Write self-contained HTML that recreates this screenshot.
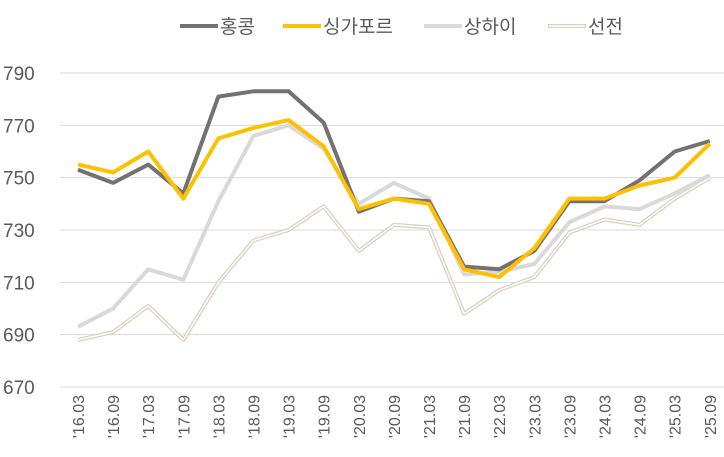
<!DOCTYPE html>
<html><head><meta charset="utf-8"><style>
body{margin:0;background:#fff;width:724px;height:452px;overflow:hidden}
text{font-family:"Liberation Sans","Noto Sans CJK KR",sans-serif}
</style></head><body>
<svg id="s" width="724" height="452" xmlns="http://www.w3.org/2000/svg"></svg>
<script>
const s=document.getElementById('s');
const ns='http://www.w3.org/2000/svg';
function el(t,a,txt){const e=document.createElementNS(ns,t);for(const k in a)e.setAttribute(k,a[k]);if(txt!=null)e.textContent=txt;s.appendChild(e);return e;}
const Y=v=>387-(v-670)*314/120, X=i=>78+35.1*i;
for(let v=670;v<=790;v+=20){el('line',{x1:60,x2:724,y1:Y(v),y2:Y(v),stroke:'#d9d9d9','stroke-width':1});
el('text',{x:3,y:Y(v)+7,'font-size':19,fill:'#595959'},v);}
const labs=["'16.03","'16.09","'17.03","'17.09","'18.03","'18.09","'19.03","'19.09","'20.03","'20.09","'21.03","'21.09","'22.03","'23.03","'23.09","'24.03","'24.09","'25.03","'25.09"];
labs.forEach((l,i)=>el('text',{x:0,y:0,'font-size':16,fill:'#595959','text-anchor':'end',transform:`translate(${X(i)+6},395) rotate(-90)`},l));
const HK=[753,748,755,744,781,783,783,771,737,742,741,716,715,722,741,741,749,760,764];
const SG=[755,752,760,742,765,769,772,762,738,742,740,715,712,723,742,742,747,750,763];
const SH=[693,700,715,711,741,766,770,761,740,748,742,713,714,717,733,739,738,744,751];
const SZ=[688,691,701,688,710,726,730,739,722,732,731,698,707,712,729,734,732,742,750];
const pts=d=>d.map((v,i)=>X(i).toFixed(1)+','+Y(v).toFixed(1)).join(' ');
el('polyline',{points:pts(SZ),fill:'none',stroke:'#d9d0bf','stroke-width':4,'stroke-linejoin':'round'});
el('polyline',{points:pts(SZ),fill:'none',stroke:'#fff','stroke-width':1.5,'stroke-linejoin':'round'});
el('polyline',{points:pts(SH),fill:'none',stroke:'#d9d9d9','stroke-width':4,'stroke-linejoin':'round'});
el('polyline',{points:pts(HK),fill:'none',stroke:'#767171','stroke-width':4,'stroke-linejoin':'round'});
el('polyline',{points:pts(SG),fill:'none',stroke:'#ffc000','stroke-width':4,'stroke-linejoin':'round'});
// legend
const L=[[180,'#767171','홍콩'],[283,'#ffc000','싱가포르'],[424,'#d9d9d9','상하이'],[548,'#d9d0bf','선전']];
L.forEach(([x,c,t],i)=>{el('line',{x1:x,x2:x+38,y1:26,y2:26,stroke:c,'stroke-width':4});
if(i==3)el('line',{x1:x+1,x2:x+37,y1:26,y2:26,stroke:'#fff','stroke-width':1.5});
el('text',{x:x+40,y:33,'font-size':19,fill:'#595959'},t);});
</script>
</body></html>
